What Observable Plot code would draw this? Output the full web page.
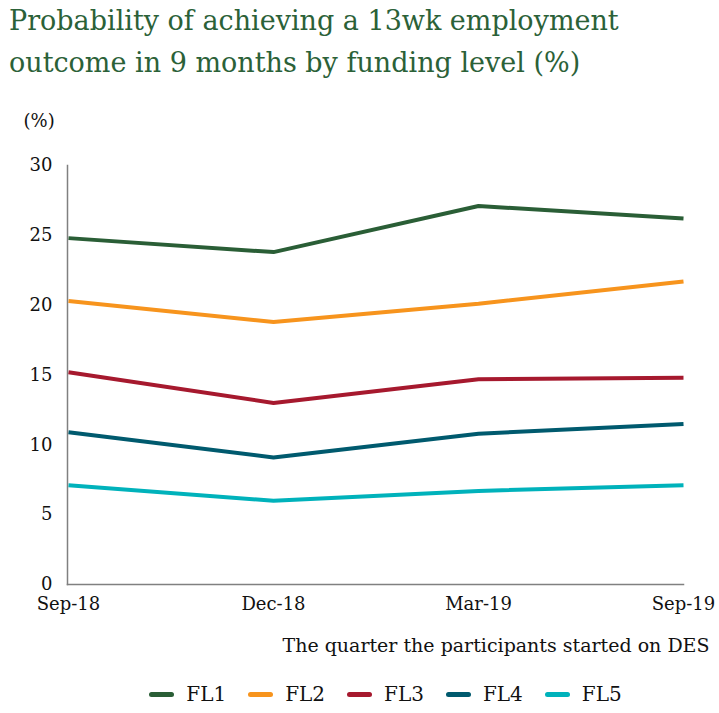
<!DOCTYPE html>
<html><head><meta charset="utf-8">
<script src="https://cdn.jsdelivr.net/npm/d3@7"></script>
<script src="https://cdn.jsdelivr.net/npm/@observablehq/plot@0.6"></script>
<style>
body{margin:0;background:#fff;width:719px;font-family:"DejaVu Serif",serif;}
#title{color:#2b6138;font-size:27px;line-height:42px;padding:0 0 0 9px;height:95px;box-sizing:border-box;margin-top:0px;white-space:nowrap;}
#legend{display:flex;justify-content:center;gap:22px;font-size:20px;color:#111;margin-left:52px;margin-top:12px;}
.it{display:flex;align-items:center;gap:12px;}
.sw{width:25px;height:5px;border-radius:3px;}
</style></head>
<body>
<div id="title">Probability of achieving a 13wk employment<br>outcome in 9 months by funding level (%)</div>
<div id="chart"></div>
<div id="legend"></div>
<script>
const quarters = ["Sep-18","Dec-18","Mar-19","Sep-19"];
const seriesNames = ["FL1","FL2","FL3","FL4","FL5"];
const fl1 = [24.8, 23.8, 27.1, 26.2];
const fl2 = [20.3, 18.8, 20.1, 21.7];
const fl3 = [15.2, 13.0, 14.7, 14.8];
const fl4 = [10.9, 9.1, 10.8, 11.5];
const fl5 = [7.1, 6.0, 6.7, 7.1];
const colors = ["#2a5e36","#f7941d","#a6192e","#005a6e","#00b2bb"];
const yTicks = [0,5,10,15,20,25,30];

const allSeries = [fl1,fl2,fl3,fl4,fl5];
const data = [];
allSeries.forEach((vals,i)=>vals.forEach((v,j)=>data.push({series:seriesNames[i],quarter:quarters[j],value:v})));

const chart = Plot.plot({
  width:719, height:575,
  marginLeft:67, marginRight:36, marginTop:70, marginBottom:86,
  style:{fontFamily:"DejaVu Serif, serif",fontSize:"18px",color:"#111",background:"#fff"},
  x:{type:"point",domain:quarters,padding:0,label:null},
  y:{domain:[0,30],ticks:yTicks,label:null},
  color:{domain:seriesNames,range:colors},
  marks:[
    Plot.axisY({ticks:yTicks,tickSize:0,tickPadding:15,label:null,fontSize:18}),
    Plot.axisX({tickSize:0,tickPadding:13,label:null,fontSize:18}),
    Plot.frame({anchor:"left",stroke:"#808080",strokeWidth:1.5}),
    Plot.frame({anchor:"bottom",stroke:"#808080",strokeWidth:1.5}),
    Plot.line(data,{x:"quarter",y:"value",z:"series",stroke:"series",strokeWidth:4,strokeLinejoin:"miter",strokeLinecap:"butt"}),
    Plot.text(["(%)"],{frameAnchor:"top-left",dx:-44,dy:-51,text:d=>d,fontSize:18,textAnchor:"start"}),
    Plot.text(["The quarter the participants started on DES"],{frameAnchor:"bottom-right",dx:26,dy:67,text:d=>d,fontSize:19,textAnchor:"end"})
  ]
});
document.getElementById("chart").appendChild(chart);
const lg=document.getElementById("legend");
seriesNames.forEach((n,i)=>{
  const it=document.createElement("div");it.className="it";
  const sw=document.createElement("div");sw.className="sw";sw.style.background=colors[i];
  const t=document.createElement("span");t.textContent=n;
  it.appendChild(sw);it.appendChild(t);lg.appendChild(it);
});
</script>
</body></html>
